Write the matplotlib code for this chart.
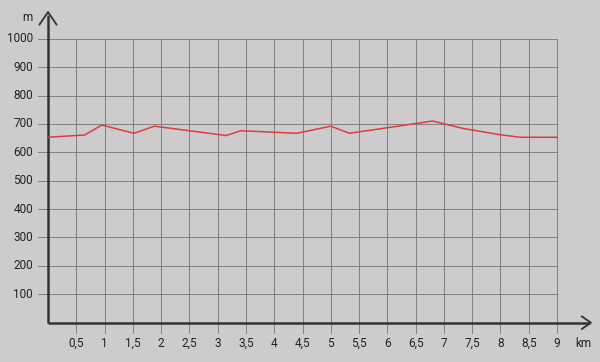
import matplotlib
matplotlib.use("Agg")
import matplotlib.pyplot as plt
import numpy as np

plt.rcParams['font.family'] = ['Roboto', 'DejaVu Sans']

# elevation profile
dist_km = [0, 0.65, 0.95, 1.52, 1.88, 3.15, 3.41, 4.40, 5.0, 5.33, 6.80, 7.34, 7.99, 8.35, 9.0]
elev_m = [653, 661, 696, 667, 692, 659, 676, 667, 692, 667, 710, 684, 662, 653, 653]

x_ticks = np.arange(0.5, 9.01, 0.5)
x_labels = ["0,5", "1", "1,5", "2", "2,5", "3", "3,5", "4", "4,5",
            "5", "5,5", "6", "6,5", "7", "7,5", "8", "8,5", "9"]
y_ticks = np.arange(100, 1001, 100)
y_labels = [str(v) for v in y_ticks]

bg = "#cccccc"
grid_col = "#808080"
axis_col = "#333333"

fig = plt.figure(figsize=(6, 3.62), dpi=100, facecolor=bg)
ax = fig.add_axes([0, 0, 1, 1])
ax.set_facecolor(bg)
ax.set_xlim(-0.849, 9.760)
ax.set_ylim(-138.4, 1136.3)
ax.axis("off")

# grid (lines extend past the axes as ticks)
for x in x_ticks:
    ax.plot([x, x], [-36, 1000], color=grid_col, lw=0.7, zorder=1)
for y in y_ticks:
    ax.plot([-0.177, 9], [y, y], color=grid_col, lw=0.7, zorder=1)

# axes with arrows
ax.plot([0, 0], [0, 1085], color=axis_col, lw=1.8, zorder=3, solid_capstyle="butt")
ax.plot([0, 9.58], [0, 0], color=axis_col, lw=1.8, zorder=3, solid_capstyle="butt")
ax.plot([-0.15, 0, 0.15], [1050, 1094, 1050], color=axis_col, lw=1.3, zorder=3)
ax.plot([9.44, 9.6, 9.44], [22, 0, -22], color=axis_col, lw=1.3, zorder=3)

ax.plot(dist_km, elev_m, color="#e03c3c", lw=1.1, zorder=4)

for x, lab in zip(x_ticks, x_labels):
    ax.text(x, -71.5, lab, ha="center", va="center", fontsize=8.5, color="#222222")
for y, lab in zip(y_ticks, y_labels):
    ax.text(-0.265, y, lab, ha="right", va="center", fontsize=8.5, color="#222222")

ax.text(-0.37, 1076, "m", ha="center", va="center", fontsize=8.5, color="#222222")
ax.text(9.46, -71.5, "km", ha="center", va="center", fontsize=8.5, color="#222222")

fig.savefig("out.png", dpi=100, facecolor=bg)
